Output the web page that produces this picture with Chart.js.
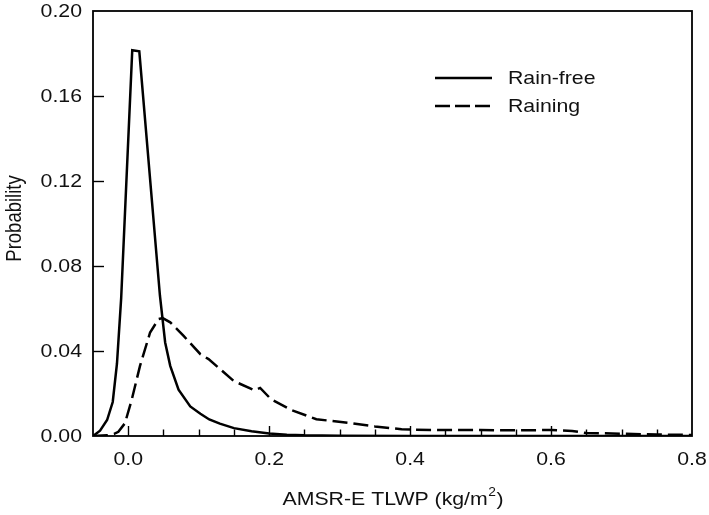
<!DOCTYPE html>
<html>
<head>
<meta charset="utf-8">
<script src="https://cdn.jsdelivr.net/npm/chart.js@4/dist/chart.umd.min.js"></script>
<style>
html,body{margin:0;padding:0;background:#fff;}
canvas{display:block;}
</style>
</head>
<body>
<canvas id="c" width="709" height="515"></canvas>
<script>
// ---- data ----
const rainFreeX = [-0.05, -0.04, -0.03, -0.022, -0.016, -0.01, 0.0057, 0.0157, 0.045, 0.0524, 0.0596, 0.0714, 0.088, 0.1024, 0.115, 0.13, 0.15, 0.175, 0.2, 0.225, 0.25, 0.3, 0.4, 0.8];
const rainFreeY = [0.0, 0.0025, 0.0075, 0.016, 0.034, 0.065, 0.1815, 0.181, 0.066, 0.044, 0.033, 0.0218, 0.0139, 0.0105, 0.0078, 0.0058, 0.0037, 0.0022, 0.0012, 0.0006, 0.0003, 0.0001, 0.0, 0.0];

const rainingX = [-0.05, -0.03, -0.02, -0.014, -0.0047, 0.0049, 0.0167, 0.031, 0.043, 0.049, 0.0596, 0.0786, 0.1024, 0.114, 0.1286, 0.15, 0.1796, 0.1872, 0.2024, 0.231, 0.267, 0.317, 0.35, 0.388, 0.4, 0.45, 0.5, 0.55, 0.6, 0.63, 0.65, 0.7, 0.75, 0.8];
const rainingY = [0.0, 0.0003, 0.001, 0.002, 0.006, 0.017, 0.033, 0.0487, 0.055, 0.0555, 0.0535, 0.0471, 0.0385, 0.0362, 0.032, 0.0258, 0.0215, 0.0226, 0.0174, 0.0123, 0.0079, 0.006, 0.0045, 0.0032, 0.003, 0.0028, 0.0028, 0.0027, 0.0028, 0.0024, 0.0014, 0.0011, 0.0007, 0.0005];

const seriesNames = ["Rain-free", "Raining"];
const xTickLabels = [0.0, 0.2, 0.4, 0.6, 0.8];
const yTickLabels = [0.00, 0.04, 0.08, 0.12, 0.16, 0.20];
const xMinorStep = 0.05;
const xTitle = "AMSR-E TLWP (kg/m";
const xTitleSup = "2";
const yTitle = "Probability";

// ---- build datasets ----
const toPts = (xs, ys) => xs.map((x, i) => ({x: x, y: ys[i]}));

const FONT = '18.5px "Liberation Sans", Arial, sans-serif';
const SUPFONT = '12px "Liberation Sans", Arial, sans-serif';
const STRETCH = 1.15;
const INK = '#111';

function stext(ctx, text, x, y, align, font) {
  ctx.save();
  ctx.font = font || FONT;
  const w = ctx.measureText(text).width * STRETCH;
  let left = x;
  if (align === 'center') left = x - w / 2;
  else if (align === 'right') left = x - w;
  ctx.translate(left, y);
  ctx.scale(STRETCH, 1);
  ctx.textAlign = 'left';
  ctx.textBaseline = 'middle';
  ctx.fillStyle = INK;
  ctx.fillText(text, 0, 0);
  ctx.restore();
  return w;
}

const decor = {
  id: 'decor',
  afterDraw(chart) {
    const ctx = chart.ctx;
    const ca = chart.chartArea;
    const xs = chart.scales.x, ys = chart.scales.y;
    ctx.save();
    // frame
    ctx.strokeStyle = '#000';
    ctx.lineWidth = 1.8;
    ctx.strokeRect(ca.left, ca.top, ca.right - ca.left, ca.bottom - ca.top);
    // x ticks (inward)
    ctx.lineWidth = 1.4;
    const nMinor = Math.round((xs.max - xs.min) / xMinorStep);
    for (let i = 1; i < nMinor; i++) {
      const v = xs.min + i * xMinorStep;
      const isMajor = xTickLabels.some(t => Math.abs(t - v) < 1e-6);
      const px = Math.round(xs.getPixelForValue(v)) + 0.5;
      ctx.beginPath();
      ctx.moveTo(px, ca.bottom);
      ctx.lineTo(px, ca.bottom - (isMajor ? 10 : 6.5));
      ctx.stroke();
    }
    // y ticks (inward)
    yTickLabels.forEach(v => {
      if (v <= ys.min || v >= ys.max) return;
      const py = Math.round(ys.getPixelForValue(v)) + 0.5;
      ctx.beginPath();
      ctx.moveTo(ca.left, py);
      ctx.lineTo(ca.left + 11, py);
      ctx.stroke();
    });
    // tick labels
    xTickLabels.forEach(v => {
      stext(ctx, v.toFixed(1), xs.getPixelForValue(v), ca.bottom + 24, 'center');
    });
    yTickLabels.forEach(v => {
      stext(ctx, v.toFixed(2), ca.left - 11, ys.getPixelForValue(v) + 1, 'right');
    });
    // x title with superscript
    ctx.font = FONT;
    const w1 = ctx.measureText(xTitle).width * STRETCH;
    ctx.font = SUPFONT;
    const w2 = ctx.measureText(xTitleSup).width * STRETCH;
    ctx.font = FONT;
    const w3 = ctx.measureText(")").width * STRETCH;
    const total = w1 + w2 + w3;
    const cx = (ca.left + ca.right) / 2;
    const ty = ca.bottom + 64;
    let x0 = cx - total / 2;
    stext(ctx, xTitle, x0, ty, 'left');
    stext(ctx, xTitleSup, x0 + w1 + 0.5, ty - 7, 'left', SUPFONT);
    stext(ctx, ")", x0 + w1 + w2 + 1, ty, 'left');
    // y title, rotated
    ctx.save();
    ctx.translate(15, (ca.top + ca.bottom) / 2 - 5);
    ctx.scale(STRETCH, 1);
    ctx.rotate(-Math.PI / 2);
    ctx.font = FONT;
    ctx.textAlign = 'center';
    ctx.textBaseline = 'middle';
    ctx.fillStyle = INK;
    ctx.fillText(yTitle, 0, 0);
    ctx.restore();
    // legend
    const lx0 = 435, lx1 = 492, tx = 508;
    const rows = [{y: 78, dash: []}, {y: 106, dash: [15, 5]}];
    rows.forEach((r, i) => {
      ctx.save();
      ctx.strokeStyle = '#000';
      ctx.lineWidth = 2.4;
      ctx.setLineDash(r.dash);
      ctx.beginPath();
      ctx.moveTo(lx0, r.y);
      ctx.lineTo(lx1, r.y);
      ctx.stroke();
      ctx.restore();
      stext(ctx, seriesNames[i], tx, r.y + 1, 'left');
    });
    ctx.restore();
  }
};

new Chart(document.getElementById('c'), {
  type: 'scatter',
  data: {
    datasets: [
      {label: seriesNames[0], data: toPts(rainFreeX, rainFreeY), showLine: true, borderColor: '#000', borderWidth: 2.5, pointRadius: 0, tension: 0, fill: false},
      {label: seriesNames[1], data: toPts(rainingX, rainingY), showLine: true, borderColor: '#000', borderWidth: 2.5, borderDash: [15, 6], pointRadius: 0, tension: 0, fill: false}
    ]
  },
  options: {
    responsive: false,
    animation: false,
    devicePixelRatio: 1,
    layout: {padding: {left: 93, right: 17, top: 11, bottom: 79}},
    plugins: {legend: {display: false}, tooltip: {enabled: false}},
    scales: {
      x: {type: 'linear', min: -0.05, max: 0.8, display: false},
      y: {type: 'linear', min: 0, max: 0.2, display: false}
    }
  },
  plugins: [decor]
});
</script>
</body>
</html>
